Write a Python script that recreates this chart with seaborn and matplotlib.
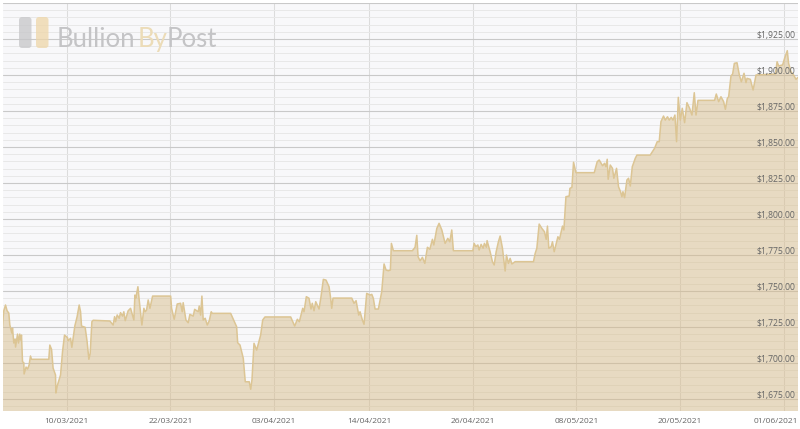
import numpy as np
import pandas as pd
import seaborn as sns
import matplotlib.pyplot as plt
import matplotlib.dates as mdates
from matplotlib.patches import FancyBboxPatch
from matplotlib.ticker import MultipleLocator
from matplotlib.transforms import IdentityTransform, ScaledTranslation

# gold price, days are counted from 10/03/2021
days = [-7.45, -7.38, -7.30, -7.10, -6.92, -6.72, -6.60, -6.37, -6.29, -6.14, -5.99, -5.94, -5.71, -5.60, -5.45, -5.36,
        -5.25, -5.13, -4.98, -4.95, -4.72, -4.55, -4.37, -4.21, -4.09, -2.09, -1.97, -1.77, -1.59, -1.31, -1.27, -1.12,
        -0.73, -0.50, -0.27, 0.08, 0.15, 0.43, 0.58, 0.93, 1.19, 1.43, 1.59, 1.70, 2.12, 2.35, 2.55, 2.70, 2.90, 3.05,
        4.98, 5.36, 5.53, 5.64, 5.83, 6.06, 6.22, 6.45, 6.60, 6.76, 7.10, 7.38, 7.76, 7.88, 7.99, 8.23, 8.38, 8.57, 8.69,
        8.92, 9.07, 9.23, 9.42, 9.62, 9.93, 12.02, 12.13, 12.43, 12.78, 13.17, 13.36, 13.47, 13.79, 14.05, 14.25, 14.63,
        14.80, 15.21, 15.33, 15.49, 15.64, 15.79, 16.02, 16.26, 16.49, 16.72, 16.84, 18.97, 19.35, 19.66, 19.78, 20.05,
        20.43, 20.66, 21.12, 21.29, 21.44, 21.67, 21.98, 22.44, 22.68, 22.94, 25.92, 26.38, 26.69, 26.92, 27.31, 27.46,
        27.73, 28.04, 28.27, 28.42, 28.62, 28.82, 29.20, 29.43, 29.70, 30.01, 30.36, 30.55, 30.67, 30.82, 32.99, 33.25,
        33.49, 33.80, 33.95, 34.22, 34.41, 34.72, 35.11, 35.31, 35.49, 35.69, 36.07, 36.46, 36.73, 36.96, 37.23, 37.46,
        37.58, 37.81, 40.01, 40.32, 40.52, 40.67, 40.90, 41.17, 41.45, 41.75, 42.03, 42.33, 42.49, 42.84, 43.10, 43.42,
        43.80, 44.11, 44.34, 44.57, 44.76, 47.01, 47.16, 47.36, 47.59, 47.74, 47.97, 48.20, 48.35, 48.58, 48.66, 49.01,
        49.28, 49.48, 49.71, 49.97, 50.17, 50.44, 50.75, 50.90, 51.13, 51.33, 51.53, 51.91, 54.03, 54.23, 54.42, 54.69,
        55.00, 55.30, 55.50, 55.65, 55.81, 56.08, 56.23, 56.43, 56.86, 57.04, 57.39, 57.55, 57.79, 58.17, 58.25, 58.48,
        58.67, 58.95, 61.07, 61.41, 61.64, 62.03, 62.26, 62.42, 62.57, 62.68, 62.92, 63.18, 63.34, 63.65, 63.88, 64.11,
        64.27, 64.39, 64.58, 64.85, 65.04, 65.24, 65.47, 65.82, 66.01, 67.55, 68.05, 68.36, 68.59, 68.79, 69.09, 69.29,
        69.55, 69.75, 69.98, 70.18, 70.41, 70.60, 70.80, 71.03, 71.26, 71.53, 71.80, 72.11, 72.38, 72.65, 72.85, 73.08,
        75.00, 75.20, 75.47, 75.74, 76.05, 76.25, 76.48, 76.63, 76.90, 77.09, 77.29, 77.60, 77.87, 78.10, 78.41, 78.64,
        78.76, 79.14, 79.46, 79.80, 82.04, 82.24, 82.42, 82.88, 83.11, 83.42, 83.57, 83.85, 84.15, 84.43, 84.66]
price = [1725.2, 1731.3, 1736.3, 1740.3, 1736.3, 1734.7, 1726.4, 1720.8, 1724.3, 1713.9, 1716.7, 1711.1, 1720.1, 1713.9,
         1720.1, 1716.0, 1719.4, 1700.9, 1700.2, 1692.4, 1697.2, 1695.8, 1698.6, 1704.9, 1702.6, 1702.6, 1712.5, 1709.5,
         1696.5, 1691.7, 1679.2, 1684.0, 1691.7, 1707.9, 1719.4, 1717.6, 1715.5, 1717.2, 1710.9, 1725.9, 1732.2, 1740.3,
         1735.6, 1725.7, 1724.8, 1714.8, 1702.6, 1706.7, 1728.7, 1729.7, 1729.2, 1726.4, 1732.2, 1728.7, 1733.4, 1731.1,
         1735.0, 1732.6, 1735.6, 1729.4, 1736.3, 1738.0, 1729.9, 1747.2, 1745.1, 1753.0, 1743.8, 1733.3, 1726.4, 1738.0,
         1735.6, 1736.8, 1743.8, 1738.0, 1746.5, 1746.5, 1738.0, 1730.4, 1741.0, 1741.5, 1735.6, 1741.9, 1729.9, 1728.0,
         1733.8, 1732.6, 1737.3, 1735.6, 1739.6, 1733.3, 1746.5, 1729.9, 1731.1, 1726.4, 1729.4, 1735.6, 1734.5, 1734.5,
         1729.4, 1725.2, 1714.1, 1712.5, 1703.3, 1687.0, 1687.0, 1681.8, 1688.7, 1713.7, 1709.0, 1719.4, 1729.9, 1732.0,
         1732.0, 1725.7, 1730.4, 1728.7, 1738.0, 1735.6, 1746.1, 1745.0, 1737.5, 1741.5, 1736.3, 1742.6, 1737.5, 1746.1,
         1758.1, 1757.6, 1753.0, 1744.9, 1738.0, 1745.1, 1745.1, 1741.5, 1743.3, 1733.3, 1735.6, 1729.9, 1726.9, 1748.4,
         1747.2, 1747.7, 1744.9, 1737.5, 1737.5, 1749.5, 1768.8, 1764.6, 1764.1, 1764.6, 1783.1, 1778.0, 1778.0, 1780.4,
         1788.7, 1773.8, 1771.0, 1773.4, 1769.2, 1780.4, 1779.0, 1785.9, 1782.0, 1793.5, 1797.0, 1792.4, 1783.1, 1786.6,
         1784.2, 1792.4, 1778.0, 1778.0, 1783.1, 1780.8, 1782.0, 1778.5, 1782.4, 1779.7, 1783.1, 1780.4, 1785.0, 1777.3,
         1770.4, 1768.1, 1777.3, 1784.2, 1788.2, 1779.7, 1763.9, 1775.0, 1769.2, 1772.7, 1768.8, 1770.4, 1770.4, 1776.2,
         1779.7, 1796.5, 1793.5, 1791.2, 1785.9, 1795.1, 1779.7, 1780.8, 1784.2, 1777.3, 1787.7, 1785.9, 1795.1, 1792.4,
         1815.5, 1816.0, 1821.3, 1822.0, 1839.4, 1832.2, 1832.2, 1839.8, 1841.0, 1837.0, 1838.7, 1836.3, 1841.5, 1827.6,
         1837.5, 1835.2, 1828.3, 1835.2, 1822.4, 1819.0, 1815.5, 1819.0, 1814.8, 1827.1, 1828.3, 1822.9, 1836.3, 1842.2,
         1844.4, 1844.4, 1849.1, 1853.7, 1853.7, 1867.6, 1871.5, 1868.7, 1871.0, 1868.7, 1870.6, 1868.7, 1872.2, 1853.7,
         1884.5, 1868.7, 1876.9, 1866.9, 1880.8, 1876.9, 1872.2, 1887.7, 1872.2, 1882.4, 1882.4, 1886.8, 1881.5, 1884.9,
         1881.5, 1876.2, 1883.8, 1884.9, 1899.3, 1900.7, 1908.1, 1908.5, 1900.0, 1895.3, 1901.2, 1894.7, 1897.7, 1897.0,
         1889.6, 1900.0, 1900.7, 1909.2, 1906.3, 1907.0, 1911.6, 1916.9, 1908.1, 1902.3, 1900.0, 1897.0, 1898.4]
date_ticks = ['2021-03-10', '2021-03-22', '2021-04-03', '2021-04-14', '2021-04-26', '2021-05-08', '2021-05-20', '2021-06-01']

start = pd.Timestamp('2021-03-10')
df = pd.DataFrame({'date': start + pd.to_timedelta(days, unit='D'), 'price': price})

sns.set_style('white')
plt.rcParams['font.family'] = ['Open Sans', 'DejaVu Sans']

fig = plt.figure(figsize=(8, 4.29), dpi=100)
ax = fig.add_axes([2.5 / 800, 1 - 411 / 429, 795.5 / 800, 408 / 429])
ax.set_facecolor('#f8f8fa')

ax.fill_between(df['date'], df['price'], 1600, color='#d6ba85', alpha=0.48, lw=0, zorder=3)
sns.lineplot(data=df, x='date', y='price', ax=ax, color='#dcc594', lw=1.1, estimator=None, sort=False, zorder=4)

ax.set_xlim(df['date'].iloc[0], df['date'].iloc[-1])
ax.set_ylim(1666.7, 1950)
ax.set_xlabel('')
ax.set_ylabel('')
ax.set_xticks([pd.Timestamp(d) for d in date_ticks])
ax.xaxis.set_major_formatter(mdates.DateFormatter('%d/%m/%Y'))
ax.yaxis.set_major_locator(MultipleLocator(25))
ax.yaxis.set_minor_locator(MultipleLocator(5))
ax.tick_params(axis='y', which='both', length=0, labelleft=False)
ax.tick_params(axis='x', length=0, pad=5, labelsize=6, labelcolor='#666666')

ax.grid(True, axis='y', which='major', color='#c9c9c9', lw=0.8)
ax.grid(True, axis='y', which='minor', color='#e8e8e8', lw=0.7)
ax.grid(True, axis='x', which='major', color='#dcdcdc', lw=0.75)
ax.set_axisbelow(True)
for spine in ax.spines.values():
    spine.set_visible(False)

# last date label is pulled in so it stays on the picture
last_label = ax.get_xticklabels()[-1]
last_label.set_transform(last_label.get_transform() + ScaledTranslation(-8 / 100, 0, fig.dpi_scale_trans))

# price labels sit inside the plot, just over their gridline
for val in range(1675, 1950, 25):
    ax.annotate(f'${val:,.2f}', xy=(1, val), xycoords=('axes fraction', 'data'), xytext=(-2, -0.6),
                textcoords='offset points', ha='right', va='bottom', fontsize=6.2, color='#666666', zorder=6)

# logo
for x0, col in [(19, '#c6c6c8'), (36, '#eed6a8')]:
    fig.add_artist(FancyBboxPatch((x0, 429 - 48), 12.5, 31, boxstyle='round,pad=0,rounding_size=3',
                                  transform=IdentityTransform(), fc=col, ec='none', alpha=0.75, zorder=8))
for txt, x0, col in [('Bullion', 57, '#c4c4c6'), ('By', 138, '#ecdcb8'), ('Post', 167, '#c4c4c6')]:
    fig.text(x0 / 800, 1 - 47 / 429, txt, fontsize=18.5, color=col, family='Lato', zorder=8)

plt.savefig('out.png', dpi=100)
